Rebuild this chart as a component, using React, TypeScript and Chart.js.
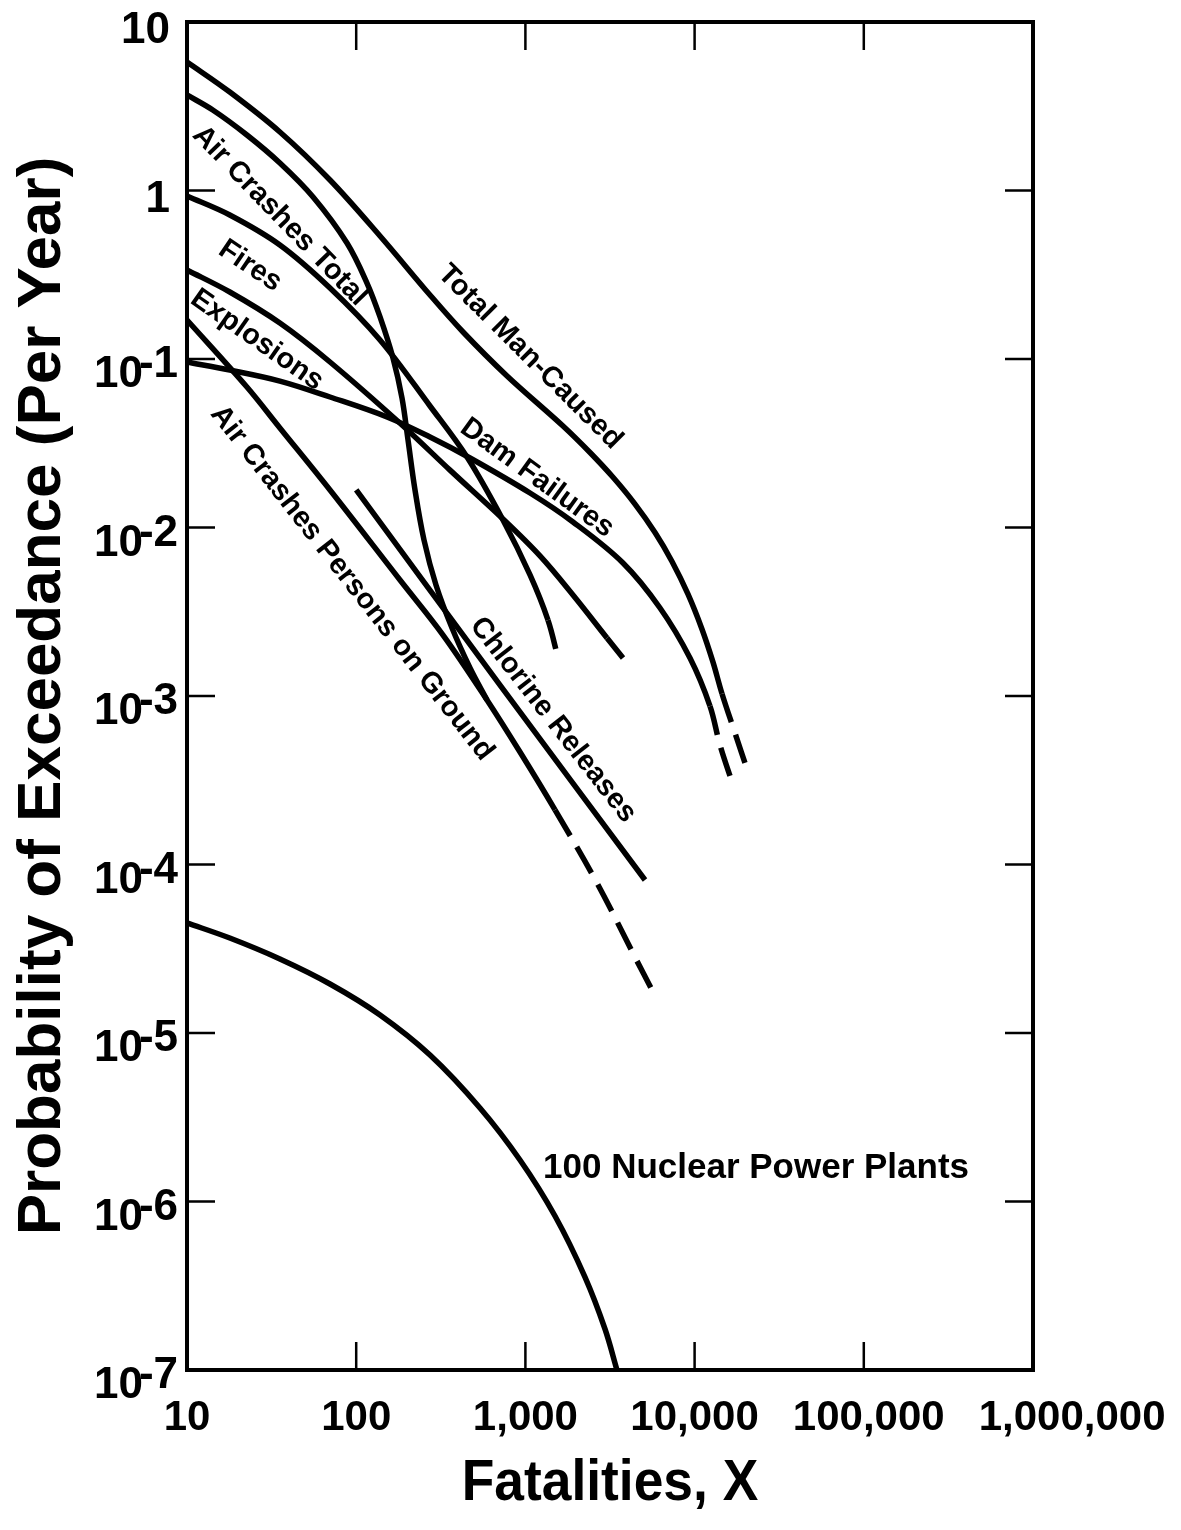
import React, { useEffect, useRef } from "react";
import { Chart, registerables } from "chart.js";

Chart.register(...registerables);

// ---------- axis ticks ----------
const xTickValues = [10, 100, 1000, 10000, 100000, 1000000];
const xTickLabels = ["10", "100", "1,000", "10,000", "100,000", "1,000,000"];
const yTickValues = [10, 1, 0.1, 0.01, 0.001, 0.0001, 0.00001, 0.000001, 0.0000001];
const yTickBases = ["10", "1", "10", "10", "10", "10", "10", "10", "10"];
const yTickExponents = ["", "", "-1", "-2", "-3", "-4", "-5", "-6", "-7"];

const xAxisTitle = "Fatalities, X";
const yAxisTitle = "Probability of Exceedance (Per Year)";

// ---------- series (fatalities X, probability of exceedance per year) ----------
const totalManCausedX = [10, 17.9, 35.4, 70, 138.3, 273, 428, 779, 1668, 2409, 3295, 4444, 5834, 7353, 9141, 11060, 12844, 14520, 17330, 20690];
const totalManCausedP = [5.79, 3.84, 2.225, 1.154, 0.537, 0.2398, 0.1446, 0.0793, 0.04004, 0.02787, 0.01986, 0.01377, 0.00934, 0.00629, 0.004019, 0.002491, 0.001588, 0.001032, 0.000603, 0.000354];
const totalManCausedLastSolid = 17;

const airCrashesTotalX = [10, 14.2, 22.6, 35.4, 55.6, 88.2, 115.8, 138.3, 165, 186.5, 202.4, 222.6, 251.6, 296.2, 368.4, 470.7, 593];
const airCrashesTotalP = [3.69, 3.004, 2.135, 1.456, 0.915, 0.488, 0.2825, 0.1776, 0.1014, 0.0587, 0.0331, 0.0167, 0.00843, 0.00456, 0.00253, 0.001466, 0.000947];
const airCrashesTotalLastSolid = 16;

const firesX = [10, 17.9, 35.4, 70, 138.3, 273, 451.7, 737, 1065, 1360, 1559];
const firesP = [0.928, 0.7155, 0.4749, 0.2638, 0.1297, 0.0526, 0.0262, 0.01108, 0.00523, 0.00282, 0.00168];
const firesLastSolid = 9;

const explosionsX = [10, 17.9, 35.4, 70, 186.5, 358.4, 737, 1220, 1911, 3036, 3775];
const explosionsP = [0.3374, 0.2498, 0.1635, 0.096, 0.0406, 0.0219, 0.01123, 0.00678, 0.003976, 0.00221, 0.00168];
const explosionsLastSolid = 9;

const damFailuresX = [10, 17.9, 35.4, 70, 152, 273, 470.7, 1065, 1911, 3775, 6248, 9393, 12331, 14125, 16870];
const damFailuresP = [0.096, 0.086, 0.074, 0.0595, 0.0453, 0.03444, 0.02585, 0.01602, 0.01078, 0.00616, 0.003329, 0.00168, 0.000872, 0.000512, 0.000296];
const damFailuresLastSolid = 12;

const personsOnGroundX = [10, 22.6, 35.4, 70, 181.5, 326, 593, 929, 1496, 2649, 4444, 5601];
const personsOnGroundP = [0.1704, 0.0682, 0.039, 0.0167, 0.00488, 0.0023, 0.000947, 0.000465, 0.000211, 0.0000777, 0.0000282, 0.000018];
const personsOnGroundLastSolid = 8;

const chlorineX = [100, 708, 5093];
const chlorineP = [0.0167, 0.00116, 0.0000809];
const chlorineLastSolid = 2;

const nuclearX = [10, 17.9, 35.4, 70, 138.3, 273, 539, 929, 1496, 2250, 2954, 3477];
const nuclearP = [0.000045, 0.0000366, 0.00002749, 0.00001953, 0.00001279, 0.0000074, 0.00000359, 0.000001763, 0.00000082, 0.000000356, 0.0000001751, 0.0000001];
const nuclearLastSolid = 11;

// ---------- curve labels ----------
const curveLabelTexts = [
  "Total Man-Caused",
  "Air Crashes Total",
  "Fires",
  "Explosions",
  "Dam Failures",
  "Air Crashes Persons on Ground",
  "Chlorine Releases",
  "100 Nuclear Power Plants",
];
const curveLabelX = [1065, 35.4, 23.6, 25.9, 1171, 94.5, 1456, 23070];
const curveLabelP = [0.1028, 0.706, 0.356, 0.1297, 0.01967, 0.00468, 0.000721, 0.00000158];
const curveLabelAngles = [45, 46, 34, 35, 36, 52, 52, 0];

const FONT = "'Liberation Sans', Arial, Helvetica, sans-serif";
const W = 1181;
const H = 1530;
const DASH = [30, 13];

const seriesTable = [
  { x: totalManCausedX, p: totalManCausedP, lastSolid: totalManCausedLastSolid },
  { x: airCrashesTotalX, p: airCrashesTotalP, lastSolid: airCrashesTotalLastSolid },
  { x: firesX, p: firesP, lastSolid: firesLastSolid },
  { x: explosionsX, p: explosionsP, lastSolid: explosionsLastSolid },
  { x: damFailuresX, p: damFailuresP, lastSolid: damFailuresLastSolid },
  { x: personsOnGroundX, p: personsOnGroundP, lastSolid: personsOnGroundLastSolid },
  { x: chlorineX, p: chlorineP, lastSolid: chlorineLastSolid },
  { x: nuclearX, p: nuclearP, lastSolid: nuclearLastSolid },
];

const decorPlugin = {
  id: "decor",
  beforeDraw(chart: any) {
    const { ctx, width, height } = chart;
    ctx.save();
    ctx.fillStyle = "#ffffff";
    ctx.fillRect(0, 0, width, height);
    ctx.restore();
  },
  afterDraw(chart: any) {
    const { ctx, chartArea: a, scales } = chart;
    const xs = scales.x;
    const ys = scales.y;
    ctx.save();
    ctx.strokeStyle = "#000";
    ctx.fillStyle = "#000";

    // inner tick marks
    const TL = 28;
    ctx.lineWidth = 2.5;
    ctx.beginPath();
    xTickValues.forEach((v) => {
      const px = xs.getPixelForValue(v);
      if (px > a.left + 2 && px < a.right - 2) {
        ctx.moveTo(px, a.bottom);
        ctx.lineTo(px, a.bottom - TL);
        ctx.moveTo(px, a.top);
        ctx.lineTo(px, a.top + TL);
      }
    });
    yTickValues.forEach((v) => {
      const py = ys.getPixelForValue(v);
      if (py > a.top + 2 && py < a.bottom - 2) {
        ctx.moveTo(a.left, py);
        ctx.lineTo(a.left + TL, py);
        ctx.moveTo(a.right, py);
        ctx.lineTo(a.right - TL, py);
      }
    });
    ctx.stroke();

    // frame
    ctx.lineWidth = 4;
    ctx.strokeRect(a.left, a.top, a.right - a.left, a.bottom - a.top);

    // x tick labels
    ctx.font = `bold 42px ${FONT}`;
    ctx.textAlign = "center";
    ctx.textBaseline = "alphabetic";
    let prevRight = -Infinity;
    xTickValues.forEach((v, i) => {
      const px = xs.getPixelForValue(v);
      const w = ctx.measureText(xTickLabels[i]).width;
      const cx = Math.max(px, prevRight + 34 + w / 2);
      ctx.fillText(xTickLabels[i], cx, a.bottom + 60);
      prevRight = cx + w / 2;
    });

    // y tick labels (power of ten with raised exponent)
    ctx.font = `bold 44px ${FONT}`;
    ctx.textAlign = "right";
    yTickValues.forEach((v, i) => {
      const py = ys.getPixelForValue(v);
      const exp = yTickExponents[i];
      if (exp) {
        ctx.fillText(exp, a.left - 9, py + 18);
        const ew = ctx.measureText(exp).width;
        ctx.fillText(yTickBases[i], a.left - 9 - ew + 4, py + 28);
      } else {
        ctx.fillText(yTickBases[i], a.left - 17, py + 21);
      }
    });

    // axis titles
    ctx.textAlign = "center";
    ctx.textBaseline = "alphabetic";
    ctx.save();
    ctx.translate((a.left + a.right) / 2, a.bottom + 130);
    ctx.scale(0.92, 1);
    ctx.font = `bold 58px ${FONT}`;
    ctx.fillText(xAxisTitle, 0, 0);
    ctx.restore();

    ctx.save();
    ctx.translate(60, (a.top + a.bottom) / 2);
    ctx.rotate(-Math.PI / 2);
    ctx.font = `bold 62px ${FONT}`;
    ctx.fillText(yAxisTitle, 0, 0);
    ctx.restore();

    // curve labels
    ctx.font = `bold 29px ${FONT}`;
    ctx.textAlign = "center";
    ctx.textBaseline = "middle";
    curveLabelTexts.forEach((t, i) => {
      const px = xs.getPixelForValue(curveLabelX[i]);
      const py = ys.getPixelForValue(curveLabelP[i]);
      ctx.save();
      ctx.translate(px, py);
      ctx.rotate((curveLabelAngles[i] * Math.PI) / 180);
      if (i === curveLabelTexts.length - 1) ctx.font = `bold 35px ${FONT}`;
      ctx.fillText(t, 0, 0);
      ctx.restore();
    });

    ctx.restore();
  },
};

export default function App() {
  const canvasRef = useRef<HTMLCanvasElement | null>(null);

  useEffect(() => {
    const canvas = canvasRef.current;
    if (!canvas) return;
    const datasets = seriesTable.map((s) => ({
      data: s.x.map((x, i) => ({ x, y: s.p[i] })),
      showLine: true,
      fill: false,
      borderColor: "#000",
      borderWidth: 5.5,
      pointRadius: 0,
      pointHoverRadius: 0,
      tension: 0.35,
      borderCapStyle: "butt" as const,
      borderJoinStyle: "round" as const,
      clip: 6,
      segment: {
        borderDash: (ctx: any) => (ctx.p0DataIndex >= s.lastSolid ? DASH : undefined),
      },
    }));

    const chart = new Chart(canvas, {
      type: "scatter",
      data: { datasets: datasets as any },
      options: {
        responsive: false,
        animation: false,
        devicePixelRatio: 1,
        events: [],
        layout: { padding: { left: 187, top: 22, right: W - 1033, bottom: H - 1370 } },
        scales: {
          x: { type: "logarithmic", min: 10, max: 1000000, display: false },
          y: { type: "logarithmic", min: 0.0000001, max: 10, display: false },
        },
        plugins: { legend: { display: false }, tooltip: { enabled: false } },
      },
      plugins: [decorPlugin],
    });
    return () => chart.destroy();
  }, []);

  return (
    <div style={{ position: "absolute", left: 0, top: 0, width: W, height: H, background: "#fff" }}>
      <canvas ref={canvasRef} width={W} height={H} style={{ display: "block" }} />
    </div>
  );
}
